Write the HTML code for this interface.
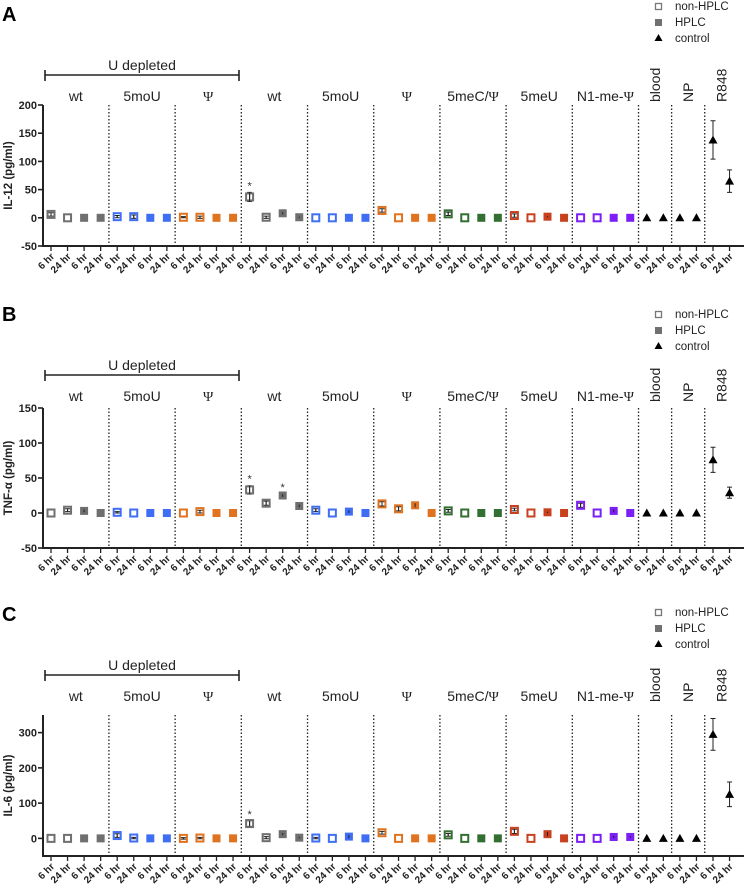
<!DOCTYPE html>
<html><head><meta charset="utf-8"><style>
html,body{margin:0;padding:0;background:#fff;}
svg{display:block;font-family:"Liberation Sans",Arial,sans-serif;}
</style></head><body>
<svg id="fig" width="744" height="888" viewBox="0 0 744 888" xmlns="http://www.w3.org/2000/svg"></svg>
<script>
const groups = ["wt","5moU","Ψ","wt","5moU","Ψ","5meC/Ψ","5meU","N1-me-Ψ"];
const groupColors = ["#6f6f6f","#3f6ef5","#e0731f","#6f6f6f","#3f6ef5","#e0731f","#336e33","#c9401f","#7b1ff5"];
const controls = ["blood","NP","R848"];
const tickLabels = ["6 hr","24 hr","6 hr","24 hr"];
const il12Values = [6,0,0,0, 2,2,0,0, 1,1,0,0, 37,1,8,1, 0,0,0,0, 13,0,0,0, 7,0,0,0, 4,0,2,0, 0,0,0,0, 0,0, 0,0, 138,65];
const il12Err = [3,0,0,0, 2,3,0,0, 1,2,0,0, 8,2,2,1, 0,0,0,0, 3,0,0,0, 3,0,0,0, 3,0,1,0, 0,0,0,0, 0,0, 0,0, 34,20];
const il12Star = [12];
const tnfValues = [0,4,3,0, 1,0,0,0, 0,2,0,0, 33,14,25,10, 4,0,2,0, 13,6,11,0, 3,0,0,0, 5,0,1,0, 11,0,3,0, 0,0, 0,0, 76,29];
const tnfErr = [0,2,2,0, 1,0,0,0, 0,2,0,0, 6,3,2,2, 2,0,2,0, 3,3,3,0, 2,0,0,0, 2,0,1,0, 3,0,2,0, 0,0, 0,0, 18,8];
const tnfStar = [12,14];
const il6Values = [0,0,0,0, 8,1,0,0, 0,1,0,0, 42,2,12,2, 1,0,5,0, 16,0,0,0, 10,0,0,0, 20,0,12,0, 0,0,4,4, 0,0, 0,0, 295,125];
const il6Err = [0,0,0,0, 5,2,0,0, 2,2,0,0, 8,3,3,2, 2,0,5,0, 4,0,0,0, 4,0,0,0, 6,0,6,0, 0,0,3,2, 0,0, 0,0, 45,35];
const il6Star = [12];
const il12Ticks = [200,150,100,50,0,-50];
const tnfTicks = [150,100,50,0,-50];
const il6Ticks = [300,200,100,0];

const NS="http://www.w3.org/2000/svg";
const svg=document.getElementById('fig');
function mk(tag,attrs,parent,text){const e=document.createElementNS(NS,tag);for(const k in attrs)e.setAttribute(k,attrs[k]);if(text!==undefined)e.textContent=text;(parent||svg).appendChild(e);return e;}
function xPix(i){return 51+16.55*i;}

const panels=[
 {letter:"A",off:0,title:"IL-12 (pg/ml)",vals:il12Values,err:il12Err,star:il12Star,ticks:il12Ticks,ymin:-50,ymax:200,pt:105,pb:246,leg:6},
 {letter:"B",off:300,title:"TNF-α (pg/ml)",vals:tnfValues,err:tnfErr,star:tnfStar,ticks:tnfTicks,ymin:-50,ymax:150,pt:408,pb:548,leg:314},
 {letter:"C",off:600,title:"IL-6 (pg/ml)",vals:il6Values,err:il6Err,star:il6Star,ticks:il6Ticks,ymin:-50,ymax:350,pt:715,pb:856,leg:612}
];

panels.forEach((p,pi)=>{
 const g=mk('g',{});
 
 
 const yPix=v=>p.pb-(v-p.ymin)/(p.ymax-p.ymin)*(p.pb-p.pt);
 const o=p.off;
 let t=mk('text',{x:2,y:o+21,'font-size':20,'font-weight':'bold'},g,p.letter);
 
 const lg=mk('g',{},g);
 
 const ly=p.leg;
 mk('rect',{x:655.5,y:ly-2.5,width:6,height:6,fill:'#fff',stroke:'#777','stroke-width':1.3},lg);
 mk('text',{x:675,y:ly+4,'font-size':11.5,fill:'#222'},lg,'non-HPLC');
 mk('rect',{x:655,y:ly+13,width:7,height:7,fill:'#707070'},lg);
 mk('text',{x:675,y:ly+20,'font-size':11.5,fill:'#222'},lg,'HPLC');
 mk('polygon',{points:`658.5,${ly+28} 662.5,${ly+35} 654.5,${ly+35}`,fill:'#000'},lg);
 mk('text',{x:675,y:ly+36,'font-size':11.5,fill:'#222'},lg,'control');
 const by=o+75;
 mk('text',{x:142,y:o+70,'font-size':14,'text-anchor':'middle',fill:'#222'},g,'U depleted');
 mk('path',{d:`M45,${by}H239M45,${by-5}V${by+6}M239,${by-5}V${by+6}`,stroke:'#222','stroke-width':1.6,fill:'none'},g);
 groups.forEach((gname,gi)=>{
  const cx=(xPix(gi*4)+xPix(gi*4+3))/2;
  const tt=mk('text',{x:cx,y:o+101,'font-size':14,'text-anchor':'middle',fill:'#222'},g);
  const parts=gname.split('Ψ');
  parts.forEach((pt,k)=>{
   if(pt) mk('tspan',{},tt,pt);
   if(k<parts.length-1) mk('tspan',{'font-family':'"Liberation Serif",serif'},tt,'Ψ');
  });
  
 });
 controls.forEach((c,ci)=>{
  const cx=(xPix(36+ci*2)+xPix(37+ci*2))/2+5;
  const tt=mk('text',{x:0,y:0,'font-size':14,fill:'#222',transform:`translate(${cx},${o+102}) rotate(-90)`},g,c);
  
 });
 for(let k=0;k<11;k++){
  const idx=k<9?k*4+3:36+(k-9)*2+1;
  const sx=(xPix(idx)+xPix(idx+1))/2;
  mk('line',{x1:sx,x2:sx,y1:p.pt,y2:p.pb,stroke:'#222','stroke-width':1.3,'stroke-dasharray':'1.5,2'},g);
 }
 const ya=mk('line',{x1:43,x2:43,y1:p.pt,y2:p.pb+1,stroke:'#222','stroke-width':2},g);
 
 const xa=mk('line',{x1:42,x2:744,y1:p.pb,y2:p.pb,stroke:'#222','stroke-width':2},g);
 
 p.ticks.forEach(v=>{
  const y=yPix(v);
  mk('line',{x1:38,x2:43,y1:y,y2:y,stroke:'#222','stroke-width':1.6},g);
  const tl=mk('text',{x:37,y:y+4,'font-size':11,'font-weight':'bold','text-anchor':'end',fill:'#222'},g,String(v));
  
 });
 const yt=mk('text',{x:0,y:0,'font-size':11.5,'font-weight':'bold','text-anchor':'middle',fill:'#222',transform:`translate(12,${(p.pt+p.pb)/2}) rotate(-90)`},g,p.title);
 
 p.vals.forEach((v,i)=>{
  const x=xPix(i);
  mk('line',{x1:x,x2:x,y1:p.pb,y2:p.pb+5,stroke:'#222','stroke-width':1.3},g);
  const lab=tickLabels[i%4];
  const tl=mk('text',{x:0,y:0,'font-size':10,'font-weight':'bold','text-anchor':'end',fill:'#222',transform:`translate(${x+4},${p.pb+11}) rotate(-45)`},g,lab);
  
 });
 p.vals.forEach((v,i)=>{
  const x=xPix(i),y=yPix(v),e=p.err[i];
  if(e>0){
   const y1=yPix(v+e),y2=yPix(v-e);
   mk('path',{d:`M${x},${y1}V${y2}M${x-2.5},${y1}H${x+2.5}M${x-2.5},${y2}H${x+2.5}`,stroke:'#222','stroke-width':1,fill:'none'},g);
  }
  let m;
  if(i>=36){
   m=mk('polygon',{points:`${x},${y-4.5} ${x+4.5},${y+3.5} ${x-4.5},${y+3.5}`,fill:'#000'},g);
   
  } else {
   const gi=Math.floor(i/4),col=groupColors[gi],open=(i%4)<2;
   if(open){m=mk('rect',{x:x-3.5,y:y-3.5,width:7,height:7,fill:'none',stroke:col,'stroke-width':2},g);}
   else {m=mk('rect',{x:x-4,y:y-4,width:8,height:8,fill:col},g);}
   if(e>0) mk('path',{d:`M${x},${yPix(v+e)}V${yPix(v-e)}`,stroke:'#222','stroke-width':1},g);
  }
  
  if(p.star.includes(i)){
   const st=mk('text',{x:x,y:yPix(v+e)-3,'font-size':11,'text-anchor':'middle',fill:'#333'},g,'*');
   
  }
 });
});
</script>
</body></html>
